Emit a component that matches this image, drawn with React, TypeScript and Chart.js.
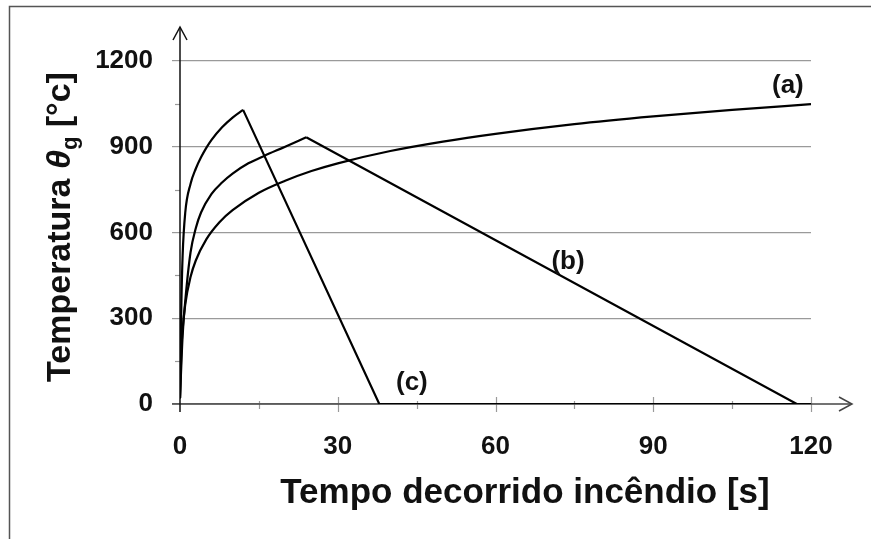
import React, { useEffect, useRef } from "react";
import { Chart, registerables } from "chart.js";
Chart.register(...registerables);

// (a) standard fire curve
const timeA = [0, 0.25, 0.5, 1, 2, 3, 5, 7.5, 10, 15, 20, 25, 30, 40, 50, 60, 75, 90, 105, 120];
const tempA = [20, 185, 261, 349, 444, 502, 576, 636, 678, 739, 781, 815, 842, 885, 918, 945, 979, 1006, 1029, 1049];
// (b) heating and cooling branches
const timeBRise = [0, 0.5, 1, 2, 3, 4, 6, 8, 10, 13, 16, 20, 24];
const tempBRise = [20, 240, 360, 530, 615, 670, 735, 775, 806, 842, 868, 900, 933];
const timeBFall = [24, 117.3, 120];
const tempBFall = [933, 0, 0];
// (c) heating and cooling branches
const timeCRise = [0, 0.25, 0.5, 1, 2, 3, 4, 5, 6, 8, 10, 12];
const tempCRise = [20, 340, 520, 670, 770, 823, 863, 896, 924, 968, 1002, 1029];
const timeCFall = [12, 37.9, 120];
const tempCFall = [1029, 0, 0];

const xTicks = [0, 30, 60, 90, 120];
const yTicks = [0, 300, 600, 900, 1200];
const xMinorTicks = [15, 45, 75, 105];
const yMinorTicks = [150, 450, 750, 1050];

const curveLabels = ["(a)", "(b)", "(c)"];
const curveLabelX = [115.6, 73.8, 44.1];
const curveLabelY = [1113, 497, 73];

const xTitle = "Tempo decorrido incêndio [s]";
const yTitleMain = "Temperatura ";
const yTitleSymbol = "θ";
const yTitleSub = "g";
const yTitleUnit = " [°c]";

const FONT = '"Liberation Sans", Arial, Helvetica, sans-serif';

const pts = (xs: number[], ys: number[]) => xs.map((x, i) => ({ x, y: ys[i] }));

function line(ctx: CanvasRenderingContext2D, x1: number, y1: number, x2: number, y2: number) {
  ctx.beginPath();
  ctx.moveTo(x1, y1);
  ctx.lineTo(x2, y2);
  ctx.stroke();
}

const deco = {
  id: "deco",
  beforeDatasetsDraw(chart: any) {
    const { ctx, scales } = chart;
    const x = scales.x, y = scales.y;
    const x0 = x.getPixelForValue(0);
    const y0 = y.getPixelForValue(0);
    ctx.save();
    ctx.lineCap = "butt";
    ctx.strokeStyle = "#9a9a9a";
    ctx.lineWidth = 1.2;
    yMinorTicks.forEach((v) => {
      const py = Math.round(y.getPixelForValue(v)) + 0.5;
      line(ctx, x0 - 5, py, x0, py);
    });
    xTicks.slice(1).forEach((v) => {
      const px = Math.round(x.getPixelForValue(v)) + 0.5;
      line(ctx, px, y0 - 7, px, y0 + 8);
    });
    xMinorTicks.forEach((v) => {
      const px = Math.round(x.getPixelForValue(v)) + 0.5;
      line(ctx, px, y0 - 3, px, y0 + 5);
    });
    // x axis
    ctx.strokeStyle = "#444";
    ctx.lineWidth = 1.5;
    const xEnd = x.right + 41;
    line(ctx, x0 - 8, y0, xEnd, y0);
    ctx.beginPath();
    ctx.moveTo(xEnd - 13, y0 - 7);
    ctx.lineTo(xEnd, y0);
    ctx.lineTo(xEnd - 13, y0 + 7);
    ctx.stroke();
    // y axis
    ctx.strokeStyle = "#111";
    const yEnd = y.top - 34;
    line(ctx, x0, y0 + 8, x0, yEnd);
    ctx.beginPath();
    ctx.moveTo(x0 - 7, yEnd + 13);
    ctx.lineTo(x0, yEnd);
    ctx.lineTo(x0 + 7, yEnd + 13);
    ctx.stroke();
    ctx.restore();
  },
  afterDatasetsDraw(chart: any) {
    const { ctx, scales, width, height } = chart;
    const x = scales.x, y = scales.y;
    ctx.save();
    // frame
    ctx.strokeStyle = "#555";
    ctx.lineWidth = 1.5;
    ctx.beginPath();
    ctx.moveTo(9.5, height);
    ctx.lineTo(9.5, 6.5);
    ctx.lineTo(width, 6.5);
    ctx.stroke();

    ctx.fillStyle = "#111";
    // curve labels
    ctx.font = `bold 26px ${FONT}`;
    ctx.textAlign = "center";
    ctx.textBaseline = "middle";
    curveLabels.forEach((t, i) => {
      ctx.fillText(t, x.getPixelForValue(curveLabelX[i]), y.getPixelForValue(curveLabelY[i]));
    });

    // x title
    ctx.font = `bold 35px ${FONT}`;
    ctx.textAlign = "center";
    ctx.textBaseline = "alphabetic";
    ctx.fillText(xTitle, 525, 503);

    // y title with subscript
    const big = `bold 34px ${FONT}`;
    const ital = `italic bold 34px ${FONT}`;
    const small = `bold 22px ${FONT}`;
    ctx.font = big;
    const w1 = ctx.measureText(yTitleMain).width;
    const w4 = ctx.measureText(yTitleUnit).width;
    ctx.font = ital;
    const w2 = ctx.measureText(yTitleSymbol).width;
    ctx.font = small;
    const w3 = ctx.measureText(yTitleSub).width;
    const total = w1 + w2 + w3 + w4;
    ctx.translate(70, 227);
    ctx.rotate(-Math.PI / 2);
    ctx.textAlign = "left";
    let cx = -total / 2;
    ctx.font = big;
    ctx.fillText(yTitleMain, cx, 0);
    cx += w1;
    ctx.font = ital;
    ctx.fillText(yTitleSymbol, cx, 0);
    cx += w2;
    ctx.font = small;
    ctx.fillText(yTitleSub, cx, 7);
    cx += w3;
    ctx.font = big;
    ctx.fillText(yTitleUnit, cx, 0);
    ctx.restore();
  },
};

export default function App() {
  const ref = useRef<HTMLCanvasElement | null>(null);
  useEffect(() => {
    if (!ref.current) return;
    const ds = (data: any[], mono: boolean) => ({
      data,
      borderColor: "#000",
      borderWidth: 2.2,
      pointRadius: 0,
      fill: false,
      cubicInterpolationMode: mono ? "monotone" : "default",
      tension: 0,
    });
    const chart = new Chart(ref.current, {
      type: "line",
      data: {
        datasets: [
          ds(pts(timeA, tempA), true),
          ds(pts(timeBRise, tempBRise), true),
          ds(pts(timeBFall, tempBFall), false),
          ds(pts(timeCRise, tempCRise), true),
          ds(pts(timeCFall, tempCFall), false),
        ] as any,
      },
      options: {
        animation: false,
        responsive: false,
        maintainAspectRatio: false,
        events: [],
        layout: { padding: { top: 61, right: 60, left: 0, bottom: 0 } },
        plugins: { legend: { display: false }, tooltip: { enabled: false } },
        scales: {
          x: {
            type: "linear",
            min: 0,
            max: 120,
            afterBuildTicks: (s: any) => {
              s.ticks = xTicks.map((v) => ({ value: v }));
            },
            afterFit: (s: any) => {
              s.height = 135;
            },
            grid: { display: false, drawTicks: false },
            border: { display: false },
            ticks: {
              padding: 27,
              maxRotation: 0,
              color: "#111",
              callback: (v: any) => String(v),
              font: { family: FONT, size: 26, weight: "bold" },
            },
          },
          y: {
            type: "linear",
            min: 0,
            max: 1200,
            afterBuildTicks: (s: any) => {
              s.ticks = yTicks.map((v) => ({ value: v }));
            },
            afterFit: (s: any) => {
              s.width = 180;
            },
            grid: { color: "#9a9a9a", lineWidth: 1.2, tickLength: 8, drawTicks: true },
            border: { display: false },
            ticks: {
              padding: 19,
              color: "#111",
              callback: (v: any) => String(v),
              font: { family: FONT, size: 26, weight: "bold" },
            },
          },
        },
      } as any,
      plugins: [deco],
    });
    return () => chart.destroy();
  }, []);
  return (
    <div style={{ position: "fixed", left: 0, top: 0, width: 871, height: 539, background: "#fff" }}>
      <canvas ref={ref} width={871} height={539} style={{ width: 871, height: 539, display: "block" }} />
    </div>
  );
}
